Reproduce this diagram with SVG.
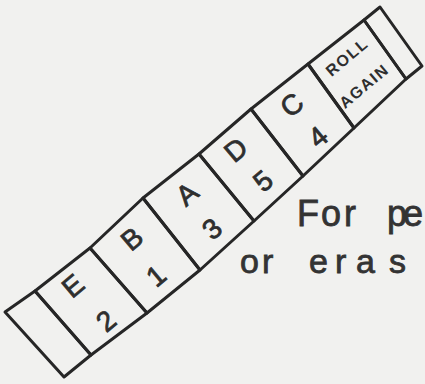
<svg xmlns="http://www.w3.org/2000/svg" width="425" height="384" viewBox="0 0 425 384">
<style>
.cell{fill:none;stroke:#262626;stroke-width:3;stroke-linejoin:round;stroke-linecap:round}
.lab{font-family:"Liberation Sans",Arial,sans-serif;font-size:28px;fill:#2e2e2e;stroke:#2e2e2e;stroke-width:0.8px;text-anchor:middle;dominant-baseline:central}
.small{font-family:"Liberation Sans",Arial,sans-serif;font-size:16px;font-weight:bold;letter-spacing:1.5px;fill:#2e2e2e;text-anchor:middle;dominant-baseline:central}
.note{font-family:"Liberation Sans",Arial,sans-serif;fill:#333;stroke:#333;stroke-width:0.8px}
</style>
<rect width="425" height="384" fill="#f1f1ef"/>
<g id="cell0"><polygon class="cell" points="5,312 35,291 91,355 64,377"/></g>
<g id="cell1"><polygon class="cell" points="35,291 90,248 147,313 91,355"/>
<text class="lab" transform="translate(73,286) rotate(-40)">E</text>
<text class="lab" transform="translate(106,321) rotate(-40)">2</text></g>
<g id="cell2"><polygon class="cell" points="90,248 143,198 200,270 147,313"/>
<text class="lab" transform="translate(132,239) rotate(-40)">B</text>
<text class="lab" transform="translate(156,276) rotate(-40)">1</text></g>
<g id="cell3"><polygon class="cell" points="143,198 199,154 254,221 200,270"/>
<text class="lab" transform="translate(187,194) rotate(-40)">A</text>
<text class="lab" transform="translate(212,229) rotate(-40)">3</text></g>
<g id="cell4"><polygon class="cell" points="199,154 251,109 303,176 254,221"/>
<text class="lab" transform="translate(236,150) rotate(-40)">D</text>
<text class="lab" transform="translate(263,181) rotate(-40)">5</text></g>
<g id="cell5"><polygon class="cell" points="251,109 308,64 354,128 303,176"/>
<text class="lab" transform="translate(292,105) rotate(-40)">C</text>
<text class="lab" transform="translate(318,137) rotate(-40)">4</text></g>
<g id="cell6"><polygon class="cell" points="308,64 364,20 406,79 354,128"/>
<text class="small" transform="translate(347,57) rotate(-40)">ROLL</text>
<text class="small" transform="translate(364,86) rotate(-40)">AGAIN</text></g>
<g id="cell7"><polygon class="cell" points="364,20 380,7 422,66 406,79"/></g>
<g id="connectors"></g>
<text class="note" font-size="36" x="297 321 344 370 387 403" y="226">For pe</text>
<text class="note" font-size="34" x="240 262 275 309 335 356 389" y="273">or eras</text>
</svg>
